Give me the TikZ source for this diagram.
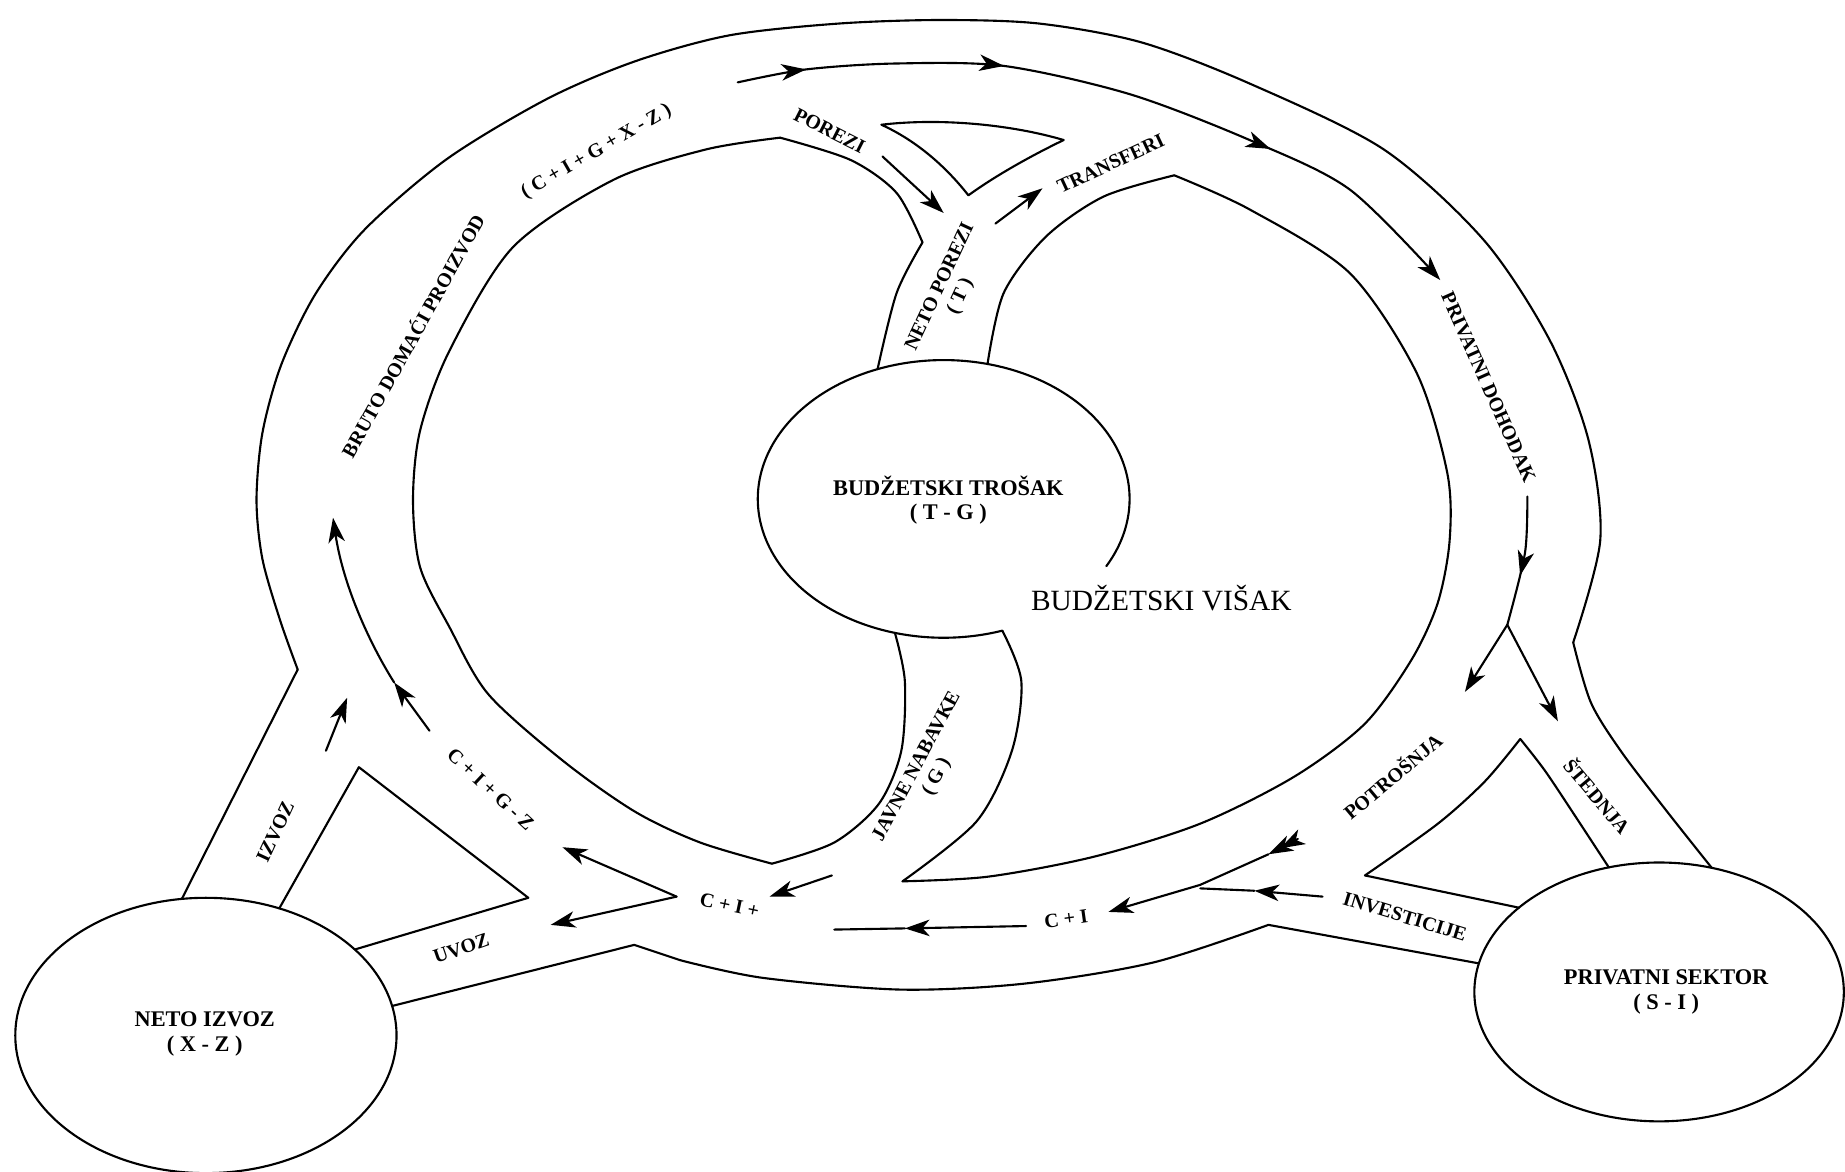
\documentclass[tikz,border=0pt]{standalone}
\usepackage{fontspec}
\setmainfont{Liberation Serif}
\usetikzlibrary{arrows.meta,shapes.geometric,decorations.markings}
\begin{document}
\begin{tikzpicture}[x=1pt,y=-1pt,
  ln/.style={line width=1.8pt, line join=round, line cap=round},
  >={Stealth[length=21pt,width=14pt,inset=6pt]},
  arr/.style={ln,->},
  midarr/.style={postaction={decorate,decoration={markings,mark=at position #1 with {\arrow{>}}}}},
  lbl/.style={font={\fontsize{17}{19}\selectfont\bfseries},inner sep=0pt},
  lbl2/.style={lbl,align=center},
  clbl/.style={font={\fontsize{19}{21}\selectfont\bfseries},align=center,inner sep=0pt},
  blob/.style={ellipse, inner sep=0pt, outer sep=0pt},
]
\useasboundingbox (0,0) rectangle (1568,996);
\clip (0,0) rectangle (1568,996);

% sector circles
\node[blob, draw, line width=1.8pt, minimum width=324pt, minimum height=234pt] (neto) at (175,880) {};
\node[blob, draw, line width=1.8pt, minimum width=314pt, minimum height=220pt] (priv) at (1410,843) {};
\node[blob, minimum width=316pt, minimum height=236pt] (tros) at (802,424) {};
\draw[ln] plot[domain=-29:288.4, samples=140, smooth] ({802+158*cos(\x)},{424-118*sin(\x)});

% outer line of the ring
\draw[ln] (neto.100) -- (253,569);
\draw[ln] plot[smooth] coordinates {(253,569) (238,527) (223,475) (218,425) (223,368) (239,310) (268,250) (310,195) (380,135) (465,84) (540,52) (620,30) (713,20) (800,17) (883,20) (970,36) (1062,71) (1176,127) (1261,204) (1317,289) (1350,374) (1360,459) (1337,546)};
\draw[ln] plot[smooth] coordinates {(1337,546) (1352,597) (1378,639) (1417,690) (priv.67)};

% left inner region
\draw[ln] plot[smooth] coordinates {(663,117) (600,127) (521,153) (436,210) (382,298) (357,366) (351,425) (357,482) (382,533) (415,590) (479,647) (540,690) (595,716) (656,734)};
\draw[ln] plot[smooth] coordinates {(656,734) (709,716) (747,683) (766,638) (769,579) (tros.-110)};
\draw[ln] plot[smooth] coordinates {(663,117) (723,136) (762,164) (784,206)};
\draw[ln] plot[smooth] coordinates {(784,206) (762,249) (tros.117)};

% right inner region
\draw[ln] plot[smooth] coordinates {(tros.-66) (868,579) (860,638) (830,698) (767,749)};
\draw[ln] plot[smooth] coordinates {(767,749) (840,745) (930,728) (1020,700) (1100,660) (1160,615) (1200,560) (1222,512) (1232,459) (1230,402) (1204,317) (1147,232) (1062,178) (998,149)};
\draw[ln] plot[smooth] coordinates {(998,149) (938,167) (889,201) (853,249) (tros.72)};

% small triangle between POREZI and TRANSFERI
\draw[ln] (749,106) .. controls (800,100) and (860,106) .. (904,119) .. controls (875,133) and (845,150) .. (823,166) .. controls (805,143) and (780,120) .. (749,106) -- cycle;

% IZVOZ / UVOZ
\draw[ln] (neto.60) -- (305,652) -- (449,763) -- (neto.30);
\draw[ln] (neto.9) -- (539,803) -- (578,816);
\draw[ln] plot[smooth] coordinates {(578,816) (648,831) (765,841) (870,836) (980,818) (1078,786)};
\draw[ln] (1078,786) -- (priv.171);

% POTROSNJA / STEDNJA / INVESTICIJE
\draw[ln] (priv.149) -- (1160,744);
\draw[ln] plot[smooth] coordinates {(1160,744) (1222,700) (1262,664) (1292,628)};
\draw[ln] plot[smooth] coordinates {(1292,628) (1313,655) (1339,694) (priv.112)};

% flow arrows
\draw[arr, midarr=0.091, midarr=0.35, midarr=0.716] plot[smooth] coordinates {(627,70) (685,59) (760,54) (853,56) (960,80) (1062,119) (1147,161) (1224,238)};
\draw[ln, midarr=0.61] plot[smooth] coordinates {(1298,422) (1296,470) (1281,531)};
\coordinate (split) at (1281,531);
\draw[arr] (split) -- (1245,588);
\draw[arr] (split) -- (1324,613);
\coordinate (potA) at (1103,713);
\coordinate (potB) at (1078,726);
\coordinate (potC) at (1088,721);
\draw[arr] (potA) -- (potC);
\draw[arr] (potC) -- (potB);
\draw[arr] (potB) -- (1020,752) -- (942,775);
\coordinate (invA) at (1124,762);
\coordinate (invB) at (1066,757);
\draw[arr] (invA) -- (invB);
\draw[ln] (invB) -- (1020,755);
\coordinate (ciA) at (872,787);
\coordinate (ciB) at (769,789);
\draw[arr] (ciA) -- (ciB);
\draw[ln] (ciB) -- (709,790);
\draw[arr] (707,744) -- (654,762);
\coordinate (ciis) at (575,762);
\draw[arr] (ciis) -- (478,720);
\draw[arr] (ciis) -- (468,786);
\coordinate (gzA) at (365,621);
\coordinate (gzB) at (335,580);
\draw[arr] (gzA) -- (gzB);
\draw[arr] (gzB) .. controls (316,550) and (292,500) .. (283,440);
\draw[arr] (277,638) -- (295,593);
\draw[arr] (750,133) -- (802,181);
\draw[arr] (846,190) -- (886,160);

% labels
\node[clbl] (tTros) at (806,425) {BUDŽETSKI TROŠAK\\( T - G )};
\node[font={\fontsize{25}{27}\selectfont}, inner sep=0pt] (tVisak) at (987,508) {BUDŽETSKI VIŠAK};
\node[clbl] (tPriv) at (1416,843) {PRIVATNI SEKTOR\\( S - I )};
\node[clbl] (tNeto) at (174,879) {NETO IZVOZ\\( X - Z )};
\node[lbl, rotate=61] (tBruto) at (350,285) {BRUTO DOMAĆI PROIZVOD};
\node[lbl, rotate=30] (tGdp) at (507,129) {( C + I + G + X - Z )};
\node[lbl, rotate=-27] (tPorezi) at (705,111) {POREZI};
\node[lbl, rotate=25] (tTransf) at (944,139) {TRANSFERI};
\node[lbl2, rotate=65] (tNetoP) at (808,248) {NETO POREZI\\( T )};
\node[lbl, rotate=-66] (tDoh) at (1265,329) {PRIVATNI DOHODAK};
\node[lbl, rotate=40] (tPotr) at (1183,659) {POTROŠNJA};
\node[lbl, rotate=-50] (tSted) at (1358,676) {ŠTEDNJA};
\node[lbl, rotate=-17] (tInv) at (1194,779) {INVESTICIJE};
\node[lbl, rotate=8] (tCI) at (906,781) {C + I};
\node[lbl, rotate=-12] (tCII) at (620,769) {C + I +};
\node[lbl, rotate=-43] (tCIGZ) at (417,671) {C + I + G - Z};
\node[lbl, rotate=65] (tIzvoz) at (234,707) {IZVOZ};
\node[lbl, rotate=19] (tUvoz) at (392,806) {UVOZ};
\node[lbl2, rotate=62] (tJavne) at (788,656) {JAVNE NABAVKE\\( G )};
\end{tikzpicture}
\end{document}
